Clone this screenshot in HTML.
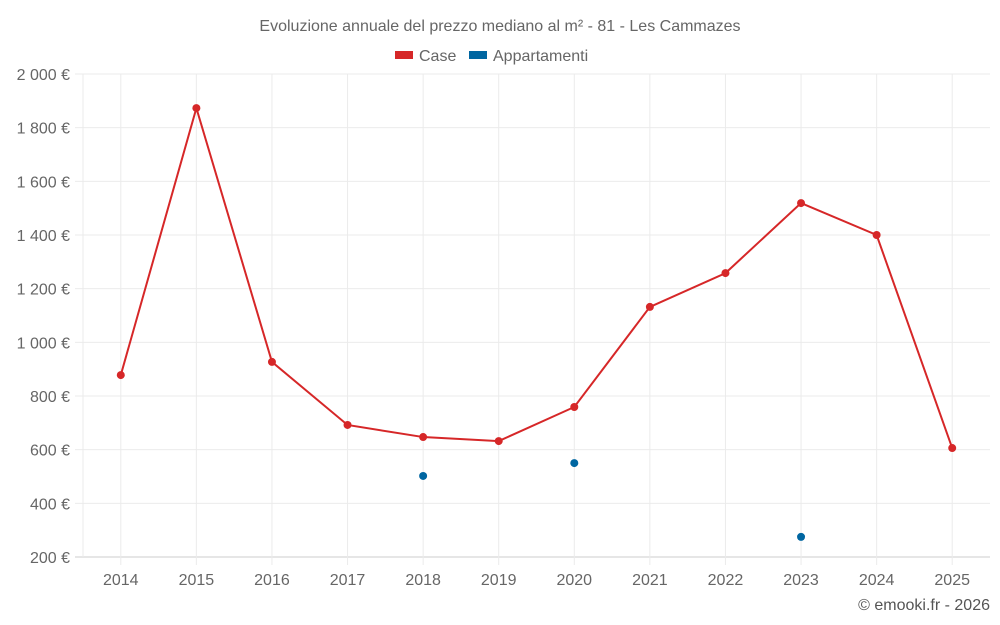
<!DOCTYPE html>
<html><head><meta charset="utf-8"><style>
html,body{margin:0;padding:0;background:#fff;width:1000px;height:625px;overflow:hidden}
svg{font-family:"Liberation Sans",sans-serif}
</style></head><body>
<svg id="chart" width="1000" height="625">
<text x="500" y="31" text-anchor="middle" font-size="16" fill="#666">Evoluzione annuale del prezzo mediano al m² - 81 - Les Cammazes</text>
<g>
<g><rect x="395" y="51" width="18" height="8" fill="#d62728"/><text x="419" y="61" font-size="16" fill="#666">Case</text></g>
<g><rect x="469" y="51" width="18" height="8" fill="#0066a1"/><text x="493" y="61" font-size="16" fill="#666">Appartamenti</text></g>
</g>
<g id="grid"></g><g id="axes"></g><g id="marks"></g>
<text x="990" y="610" text-anchor="end" font-size="16" fill="#555">© emooki.fr - 2026</text>
</svg>
<script>
const categories=["2014","2015","2016","2017","2018","2019","2020","2021","2022","2023","2024","2025"];
const caseValues=[878,1873,927,692,647,632,759,1132,1258,1519,1400,606];
const apptValues=[null,null,null,null,502,null,550,null,null,275,null,null];
const yTicks=[200,400,600,800,1000,1200,1400,1600,1800,2000];
const L=83,R=990,T=74,B=557,yMin=200,yMax=2000;
const bw=(R-L)/categories.length;
const xS=i=>L+bw*(i+0.5);
const yS=v=>B-(v-yMin)/(yMax-yMin)*(B-T);
const NS="http://www.w3.org/2000/svg";
const g=document.getElementById('grid'),ax=document.getElementById('axes'),m=document.getElementById('marks');
function mk(t,a,p){const e=document.createElementNS(NS,t);for(const k in a)e.setAttribute(k,a[k]);p.appendChild(e);return e;}
yTicks.forEach(v=>{
 const ln=mk('line',{x1:L-8,x2:R,y1:yS(v),y2:yS(v),stroke:v===yMin?'#ccc':'#ebebeb'},g);
 
 
 const t=mk('text',{x:70,y:yS(v)+6,'text-anchor':'end','font-size':16,fill:'#666'},ax);
 t.textContent=v.toLocaleString('en').replace(',',' ')+' €';
 
 
});
const la=mk('line',{x1:L,x2:L,y1:T,y2:B,stroke:'#ebebeb'},g);


categories.forEach((c,i)=>{
 const ln=mk('line',{x1:xS(i),x2:xS(i),y1:T,y2:B+8,stroke:'#ebebeb'},g);
 
 
 const t=mk('text',{x:xS(i),y:585,'text-anchor':'middle','font-size':16,fill:'#666'},ax);
 t.textContent=c;
 
 
});
const pl=mk('polyline',{points:caseValues.map((v,i)=>xS(i)+','+yS(v)).join(' '),fill:'none',stroke:'#d62728','stroke-width':2},m);


caseValues.forEach((v,i)=>{
 const c=mk('circle',{cx:xS(i),cy:yS(v),r:4,fill:'#d62728'},m);
 
 
});
apptValues.forEach((v,i)=>{
 if(v==null)return;
 const c=mk('circle',{cx:xS(i),cy:yS(v),r:4,fill:'#0066a1'},m);
 
 
});
</script>
</body></html>
